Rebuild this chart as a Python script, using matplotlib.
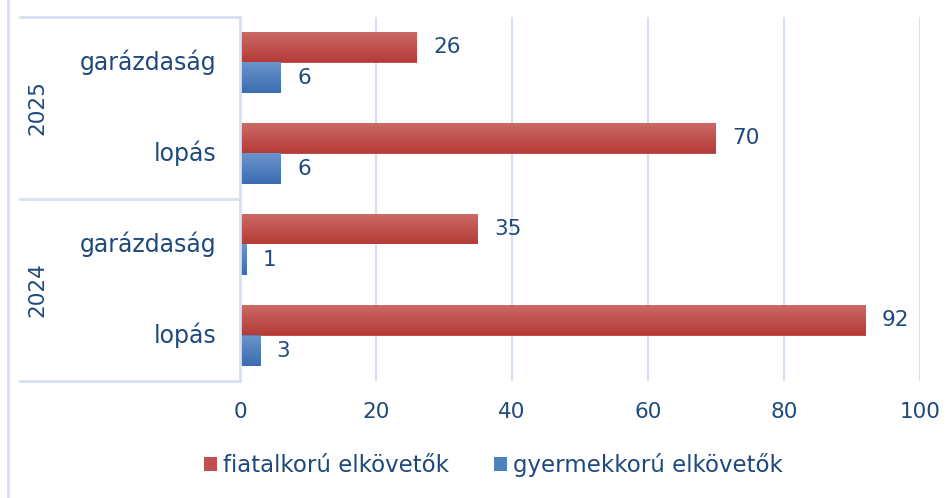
import numpy as np
import matplotlib.pyplot as plt
from matplotlib.lines import Line2D
from matplotlib.patches import Patch
from matplotlib.colors import LinearSegmentedColormap

# data, top to bottom as in the chart
years = ["2025", "2024"]
crimes = ["garázdaság", "lopás"]
fiatalkoru = [26, 70, 35, 92]      # 2025 garázdaság, 2025 lopás, 2024 garázdaság, 2024 lopás
gyermekkoru = [6, 6, 1, 3]
series_names = ["fiatalkorú elkövetők", "gyermekkorú elkövetők"]
x_ticks = [0, 20, 40, 60, 80, 100]

text_col = "#1f497d"
grid_col = "#d5e0f0"
fs = 15.5
plt.rcParams["font.family"] = ["DejaVu Sans"]

fig = plt.figure(figsize=(9.52, 4.98), dpi=100)
ax = fig.add_axes([240 / 952, 1 - 381 / 498, 680 / 952, 364 / 498])

n = len(fiatalkoru)
ypos = np.arange(n)[::-1]
h = 0.34
red_bars = ax.barh(ypos + h / 2, fiatalkoru, height=h, color="#c0504d", zorder=2)
blue_bars = ax.barh(ypos - h / 2, gyermekkoru, height=h, color="#4f81bd", zorder=2)


def shade(bars, top, bottom):
    grad = np.linspace(0, 1, 64).reshape(-1, 1)
    cmap = LinearSegmentedColormap.from_list("g", [top, bottom])
    for b in bars:
        x0, y0 = b.get_x(), b.get_y()
        w, hh = b.get_width(), b.get_height()
        im = ax.imshow(grad, cmap=cmap, aspect="auto", origin="upper",
                       extent=[x0, x0 + w, y0, y0 + hh], zorder=3)
        im.set_clip_path(b)


shade(red_bars, "#cc6b67", "#b53b38")
shade(blue_bars, "#6b93cc", "#3b6db0")

for bars, vals in [(red_bars, fiatalkoru), (blue_bars, gyermekkoru)]:
    for b, v in zip(bars, vals):
        ax.text(v + 2.4, b.get_y() + b.get_height() / 2, str(v), va="center",
                ha="left", fontsize=fs, color=text_col)

ax.set_xlim(x_ticks[0], x_ticks[-1])
ax.set_ylim(-0.5, n - 0.5)
ax.set_xticks(x_ticks)
ax.set_xticklabels([str(t) for t in x_ticks], fontsize=fs, color=text_col)
ax.tick_params(axis="x", length=0, pad=15)
ax.set_yticks([])
ax.grid(axis="x", color=grid_col, linewidth=1.5, zorder=0)
for s in ["top", "right", "bottom"]:
    ax.spines[s].set_visible(False)
ax.spines["left"].set_color(grid_col)
ax.spines["left"].set_linewidth(2)
ax.spines["left"].set_zorder(4)

# multi-level category labels
for i, y in enumerate(ypos):
    ax.text(-3.5, y, crimes[i % 2], ha="right", va="center", fontsize=17,
            color=text_col)
for j, yr in enumerate(years):
    yc = n - 1 - (2 * j + 0.5)
    ax.text(-29.8, yc, yr, ha="center", va="center", rotation=90,
            fontsize=fs, color=text_col)
for yl in [n - 0.5, n / 2 - 0.5, -0.5]:
    ax.add_line(Line2D([-32.3, 0], [yl, yl], color=grid_col, linewidth=2,
                       clip_on=False))

# outer chart border on the left
fig.add_artist(Line2D([8 / 952, 8 / 952], [0, 1], color=grid_col, linewidth=2))

handles = [Patch(facecolor="#c0504d"), Patch(facecolor="#4f81bd")]
leg = fig.legend(handles, series_names, loc="center", ncol=2,
                 bbox_to_anchor=(0.518, 1 - 465 / 498), frameon=False,
                 fontsize=16.5, handlelength=0.57, handleheight=0.57,
                 handletextpad=0.26, columnspacing=1.96)
for t in leg.get_texts():
    t.set_color(text_col)

fig.savefig("out.png", dpi=100)
